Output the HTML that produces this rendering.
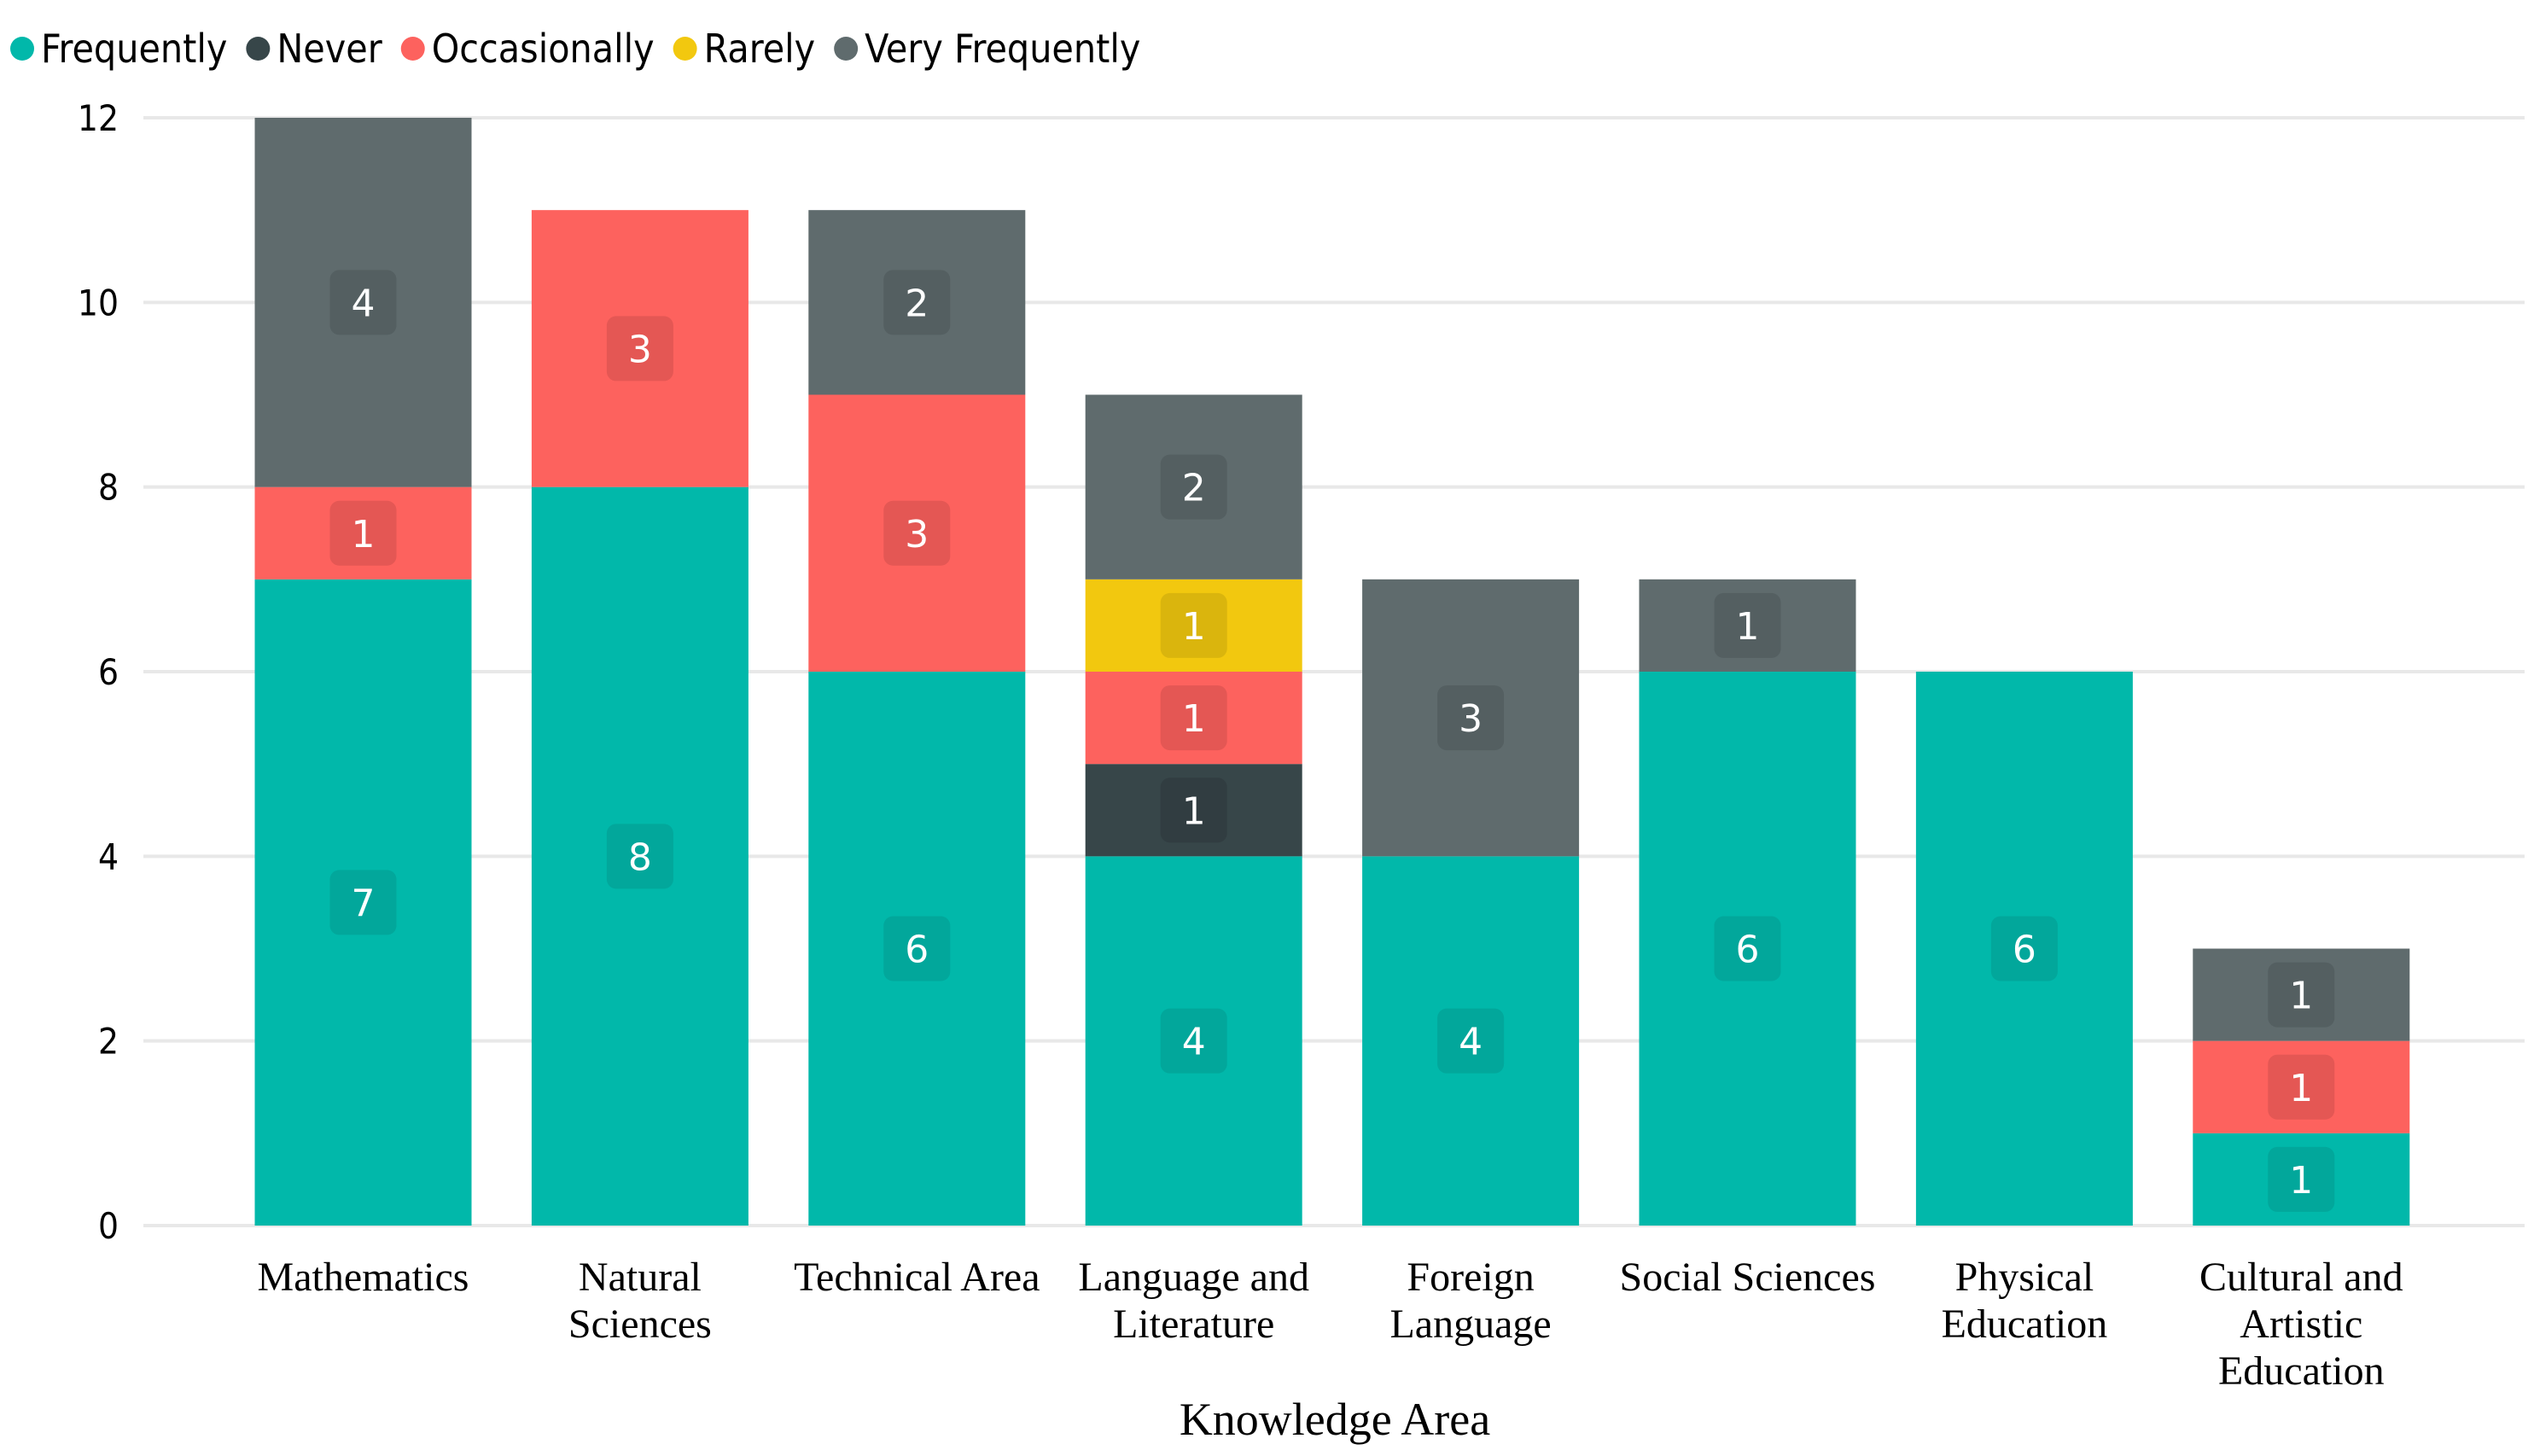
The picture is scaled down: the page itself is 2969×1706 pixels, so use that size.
<!DOCTYPE html>
<html><head><meta charset="utf-8"><style>
html,body{margin:0;padding:0;background:#fff;}
svg{display:block;}
</style></head><body>
<svg id="chart" width="2969" height="1706" viewBox="0 0 2969 1706" xmlns="http://www.w3.org/2000/svg">
<g id="legend"></g>
<g id="grid"></g>
<g id="yaxis"></g>
<g id="bars"></g>
<g id="xaxis"></g>
<text x="1564" y="1681" text-anchor="middle" font-family="Liberation Serif, serif" font-size="54" fill="#000">Knowledge Area</text>
</svg>
<script>
const categories = [["Mathematics"],["Natural","Sciences"],["Technical Area"],["Language and","Literature"],["Foreign","Language"],["Social Sciences"],["Physical","Education"],["Cultural and","Artistic","Education"]];
const seriesNames = ["Frequently","Never","Occasionally","Rarely","Very Frequently"];
const frequently = [7,8,6,4,4,6,6,1];
const never = [0,0,0,1,0,0,0,0];
const occasionally = [1,3,3,1,0,0,0,1];
const rarely = [0,0,0,1,0,0,0,0];
const veryFrequently = [4,0,2,2,3,1,0,1];
const yTicks = [0,2,4,6,8,10,12];

const series = [frequently, never, occasionally, rarely, veryFrequently];
const colors = ["#01B8AA","#374649","#FD625E","#F2C80F","#5F6B6D"];
const boxColors = ["#02A79B","#313D41","#E45754","#DAB50D","#545F61"];
const NS = "http://www.w3.org/2000/svg";
const y0 = 1436, unitPx = (1436-138)/12;
const y = v => y0 - v*unitPx;
const x0 = 263.3, band = 324.4, barW = 254;
const xc = i => x0 + band*(i+0.5);
function mk(tag, parent, attrs){const e=document.createElementNS(NS,tag);for(const k in attrs)e.setAttribute(k,attrs[k]);parent.appendChild(e);return e;}

const grid=document.getElementById('grid'), yaxis=document.getElementById('yaxis');
yTicks.forEach(t=>{
  const l=mk('line',grid,{x1:168,x2:2958,y1:y(t),y2:y(t),stroke:'#e8e8e8','stroke-width':4});
  
  
  const tx=mk('text',yaxis,{x:139,y:y(t)+15,'text-anchor':'end','font-family':'DejaVu Sans Condensed, Liberation Sans, sans-serif','font-size':42,fill:'#000'});
  tx.textContent=t;
  
  
});

const bars=document.getElementById('bars'), xaxis=document.getElementById('xaxis');
categories.forEach((cat,i)=>{
  let base=0;
  series.forEach((s,si)=>{
    const v=s[i]; if(!v) return;
    const r=mk('rect',bars,{x:xc(i)-barW/2,y:y(base+v),width:barW,height:y(base)-y(base+v),fill:colors[si]});
    
    
    const cy=y(base+v/2);
    const b=mk('rect',bars,{x:xc(i)-39,y:cy-38,width:78,height:76,rx:11,fill:boxColors[si]});
    
    
    const t=mk('text',bars,{x:xc(i),y:cy+16,'text-anchor':'middle','font-family':'DejaVu Sans, Liberation Sans, sans-serif','font-size':44,fill:'#fff'});
    t.textContent=v;
    
    
    base+=v;
  });
  cat.forEach((line,li)=>{
    const t=mk('text',xaxis,{x:xc(i),y:1512+li*55,'text-anchor':'middle','font-family':'Liberation Serif, serif','font-size':48,fill:'#000'});
    t.textContent=line;
    
    
  });
});

const legend=document.getElementById('legend');
let lx=12;
seriesNames.forEach((n,si)=>{
  const c=mk('circle',legend,{cx:lx+14,cy:57,r:14,fill:colors[si]});
  
  
  const t=mk('text',legend,{x:lx+36,y:73,'font-family':'DejaVu Sans Condensed, Liberation Sans, sans-serif','font-size':46,fill:'#000'});
  t.textContent=n;
  
  
  lx+=36+t.getComputedTextLength()+22;
});
</script>
</body></html>
